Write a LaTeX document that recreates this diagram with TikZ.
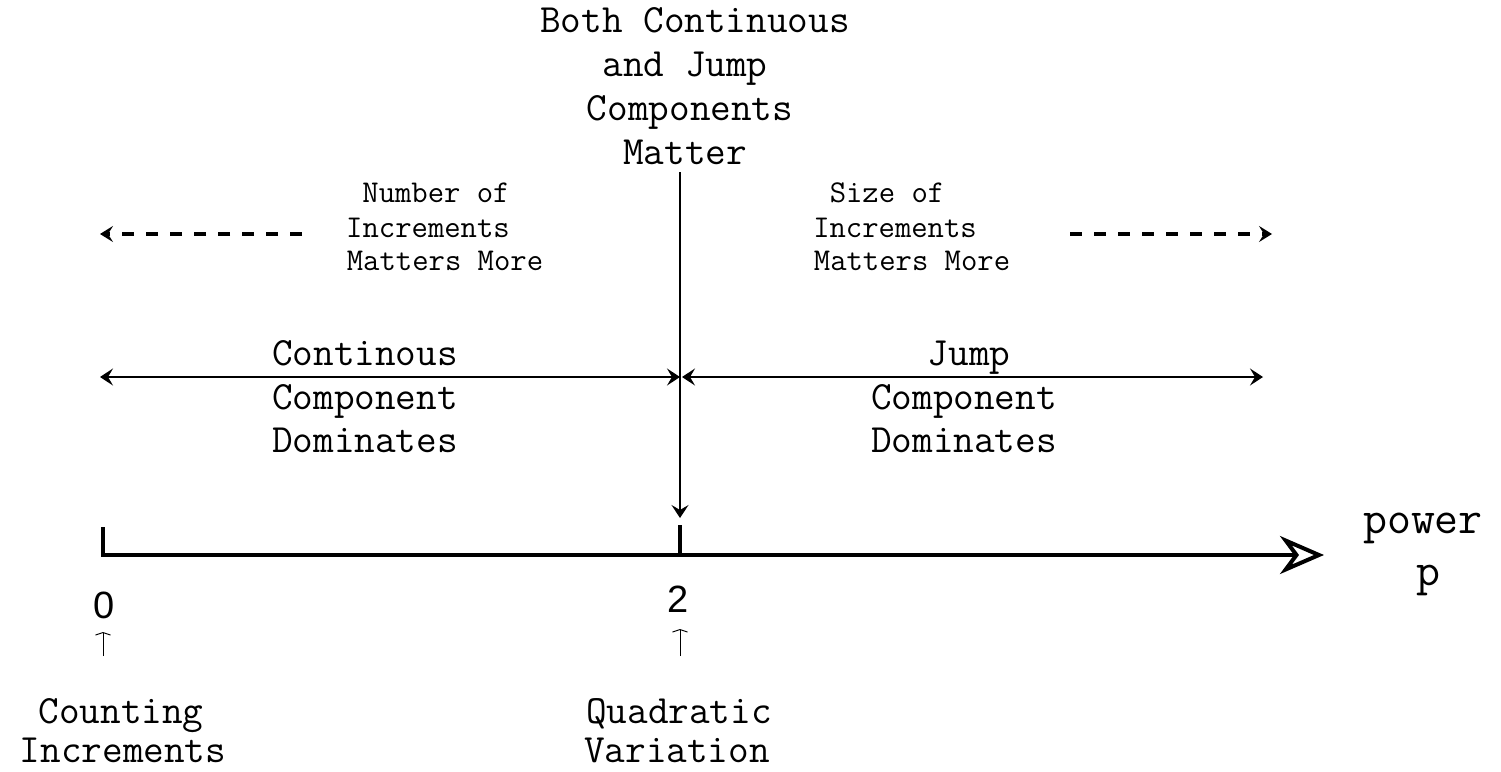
\documentclass[tikz,border=0pt]{standalone}
\usepackage{fontspec}
\newfontfamily\digitfont{Liberation Sans}
\usetikzlibrary{arrows.meta}
\tikzset{
  big/.style={anchor=base,inner sep=0pt,font=\ttfamily\fontsize{40.1}{44}\selectfont},
  small/.style={anchor=base,inner sep=0pt,font=\ttfamily\fontsize{31.75}{34}\selectfont},
  pw/.style={anchor=base,inner sep=0pt,font=\ttfamily\fontsize{46.5}{48}\selectfont},
  num/.style={anchor=base,inner sep=0pt,font=\digitfont\fontsize{38}{44}\selectfont},
  chevtip/.tip={Stealth[length=13pt,width=17pt,inset=5pt]},
  thin/.style={line width=1.3pt},
  dashline/.style={line width=4pt,dash pattern=on 12pt off 12pt,-{Stealth[length=13pt,width=16pt,inset=5pt]}},
  axis/.style={line width=4pt},
  tiny/.style={line width=1pt,-{Straight Barb[length=2.5pt,width=15pt]}}
}
\begin{document}
\begin{tikzpicture}[x=1pt,y=-1pt]
\useasboundingbox (0,0) rectangle (1501,771);
% top text
\node[big] (b1) at (695,32) {Both Continuous};
\node[big] (b2) at (685,76) {and Jump};
\node[big] (b3) at (690,120) {Components};
\node[big] (b4) at (685,164) {Matter};
% small texts
\node[small] (n1) at (436,202) {Number of};
\node[small] (n2) at (428,237) {Increments};
\node[small] (n3) at (445,270) {Matters More};
\node[small] (s1) at (887,202) {Size of};
\node[small] (s2) at (895,237) {Increments};
\node[small] (s3) at (912,270) {Matters More};
% region texts
\node[big] (c1) at (365,365) {Continous};
\node[big] (c2) at (365,409) {Component};
\node[big] (c3) at (365,452) {Dominates};
\node[big] (j1) at (969,365) {Jump};
\node[big] (j2) at (964,409) {Component};
\node[big] (j3) at (964,452) {Dominates};
% power p
\node[pw] (p1) at (1423,533) {power};
\node[pw] (p2) at (1428,585) {p};
% numbers
\node[num] (z0) at (104,618) {0};
\node[num] (z2) at (678,612) {2};
% bottom labels
\node[big] (l1) at (121,723) {Counting};
\node[big,text depth=0pt] (l2) at (123,762) {Increments};
\node[big] (q1) at (679,723) {Quadratic};
\node[big,text depth=0pt] (q2) at (677,762) {Variation};
% coordinates
\coordinate (o) at (103,555);
\coordinate (t0) at (103,527);
\coordinate (tw) at (680,555);
\coordinate (t2) at (680,525);
\coordinate (axend) at (1324,555);
\coordinate (vtop) at (680,172);
\coordinate (vbot) at (680,518);
\coordinate (dl1) at (302,234);
\coordinate (dl2) at (100,234);
\coordinate (dr1) at (1070,234);
\coordinate (dr2) at (1272,234);
\coordinate (al) at (100,377);
\coordinate (am) at (680,377);
\coordinate (am2) at (682,377);
\coordinate (ar) at (1263,377);
\coordinate (s0a) at (103,656);
\coordinate (s0b) at (103,632);
\coordinate (s2a) at (680,656);
\coordinate (s2b) at (680,629);
% axis
\draw[axis] (t0) -- (o) -- (tw);
\draw[axis,-{Stealth[open,length=44pt,width=38pt,inset=14pt]}] (tw) -- (axend);
\draw[axis] (tw) -- (t2);
% vertical arrow
\draw[thin,-chevtip] (vtop) -- (vbot);
% double arrows
\draw[thin,chevtip-chevtip] (al) -- (am);
\draw[thin,chevtip-chevtip] (am2) -- (ar);
% dashed arrows
\draw[dashline] (dl1) -- (dl2);
\draw[dashline] (dr1) -- (dr2);
% small arrows
\draw[tiny] (s0a) -- (s0b);
\draw[tiny] (s2a) -- (s2b);
\end{tikzpicture}
\end{document}
